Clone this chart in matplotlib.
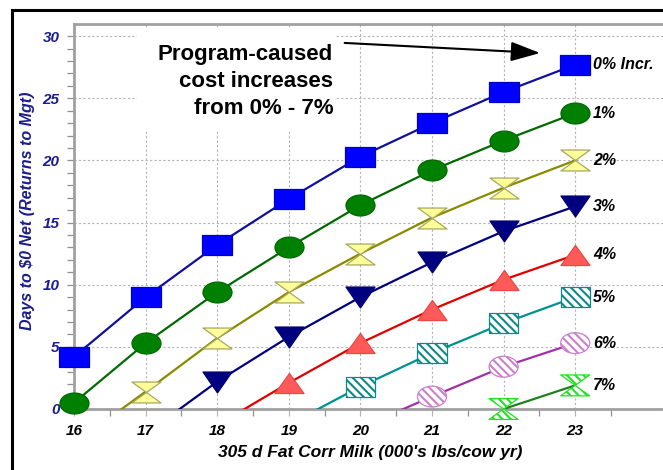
import numpy as np
import matplotlib
matplotlib.use("Agg")
import matplotlib.pyplot as plt
from matplotlib.path import Path
from matplotlib.transforms import Affine2D
from matplotlib.patches import Rectangle
from matplotlib.lines import Line2D

# ---- data -------------------------------------------------------------
milk = [16, 17, 18, 19, 20, 21, 22, 23]          # 000's lbs/cow yr
nan = np.nan
incr_0 = [4.2, 9.0, 13.2, 16.9, 20.3, 23.0, 25.5, 27.7]
incr_1 = [0.5, 5.3, 9.4, 13.0, 16.4, 19.2, 21.6, 23.8]
incr_2 = [-2.8, 1.4, 5.7, 9.4, 12.5, 15.4, 17.8, 20.0]
incr_3 = [nan, -2.0, 2.2, 5.8, 9.0, 11.8, 14.3, 16.3]
incr_4 = [nan, nan, -1.3, 2.1, 5.3, 8.0, 10.4, 12.4]
incr_5 = [nan, nan, nan, -1.25, 1.8, 4.5, 6.9, 9.0]
incr_6 = [nan, nan, nan, nan, -1.5, 1.0, 3.4, 5.3]
incr_7 = [nan, nan, nan, nan, nan, nan, 0.0, 1.9]
series_labels = ["0% Incr.", "1%", "2%", "3%", "4%", "5%", "6%", "7%"]
x_ticks = [16, 17, 18, 19, 20, 21, 22, 23]
y_ticks = [0, 5, 10, 15, 20, 25, 30]

plt.rcParams['font.family'] = ['Liberation Sans', 'DejaVu Sans']
plt.rcParams['hatch.linewidth'] = 1.5

W, H = 663, 470
fig = plt.figure(figsize=(W / 100, H / 100), dpi=100)
fig.patch.set_facecolor('white')

# axes geometry (pixels)
x_lo, x_hi = 16, 24.5
y_lo, y_hi = 0, 31
left_px, bottom_px = 74, 409
ppx, ppy = 71.6, 12.43
ax = fig.add_axes([left_px / W, (H - bottom_px) / H,
                   (x_hi - x_lo) * ppx / W, (y_hi - y_lo) * ppy / H])
ax.set_xlim(x_lo, x_hi)
ax.set_ylim(y_lo, y_hi)
ax.set_facecolor('white')


# ---- marker shapes ---------------------------------------------------
def poly(pts):
    pts = list(pts) + [pts[0]]
    codes = [Path.MOVETO] + [Path.LINETO] * (len(pts) - 2) + [Path.CLOSEPOLY]
    return Path(pts, codes)


sq = poly([(-1, -0.69), (1, -0.69), (1, 0.69), (-1, 0.69)])
ell = Path.unit_circle().transformed(Affine2D().scale(1, 0.72))
tri_up = poly([(-1, -0.69), (1, -0.69), (0, 0.69)])
tri_dn = poly([(-1, 0.72), (1, 0.72), (0, -0.72)])
hourglass = poly([(-1, 0.72), (1, 0.72), (0, 0), (1, -0.72), (-1, -0.72), (0, 0)])

stripes = '\\' * 4
styles = [
    # line color, marker, face, edge, hatch
    ('#10109a', sq, '#0000ff', '#0000c8', None),
    ('#006a00', ell, '#008000', '#006a00', None),
    ('#8a8a00', hourglass, '#ffff99', '#a8a860', None),
    ('#000080', tri_dn, '#000080', '#000070', None),
    ('#e00000', tri_up, '#ff5a5a', '#e84848', None),
    ('#009090', sq, 'white', '#108888', stripes),
    ('#a030a8', ell, 'white', '#cc80cc', stripes),
    ('#208020', hourglass, 'white', '#22e022', stripes),
]
all_series = [incr_0, incr_1, incr_2, incr_3, incr_4, incr_5, incr_6, incr_7]

msize = 20.9 ** 2
for vals, lab, (lc, mk, fc, ec, hatch) in zip(all_series, series_labels, styles):
    v = np.array(vals, dtype=float)
    x = np.array(milk, dtype=float)
    ax.plot(x, v, color=lc, lw=1.6, zorder=3, solid_capstyle='butt')
    show = ~np.isnan(v) & (v >= -0.05)
    kw = dict(s=msize, marker=mk, facecolors=fc, edgecolors=ec,
              linewidths=0.9, clip_on=False, zorder=4)
    if hatch:
        kw['hatch'] = hatch
    ax.scatter(x[show], v[show], **kw)
    last = v[~np.isnan(v)][-1]
    ax.text(23.25, last, lab, ha='left', va='center', fontsize=11.5,
            fontweight='bold', fontstyle='italic', color='black', zorder=5,
            clip_on=False)

# ---- grid, ticks, spines ---------------------------------------------
ax.set_xticks(x_ticks)
ax.set_xticks([t + 0.5 for t in x_ticks], minor=True)
ax.set_yticks(y_ticks)
ax.set_yticks(np.arange(0, 31, 1), minor=True)
ax.grid(True, which='major', color='#b4b4b4', linestyle=(0, (2, 2)), lw=0.8)
ax.set_axisbelow(True)

ax.tick_params(axis='x', which='major', length=5, width=0.8, color='#b4b4b4',
               pad=6, labelsize=11, labelcolor='black')
ax.tick_params(axis='x', which='minor', length=5, width=0.9, color='#909090')
ax.tick_params(axis='y', which='both', length=5, width=0.9, color='#909090')
ax.tick_params(axis='y', which='major', pad=5.5, labelsize=11,
               labelcolor='#1c1c8c')
for lbl in ax.get_xticklabels() + ax.get_yticklabels():
    lbl.set_fontweight('bold')
    lbl.set_fontstyle('italic')

for side in ('left', 'bottom', 'top'):
    ax.spines[side].set_color('#a0a0a0')
    ax.spines[side].set_linewidth(2)
ax.spines['right'].set_visible(False)

# ---- annotation --------------------------------------------------------
ax.add_patch(Rectangle((16.88, 22.45), 19.66 - 16.88, 30.65 - 22.45,
                       facecolor='white', edgecolor='none', zorder=2))
ax.text(19.62, 26.35, "Program-caused\ncost increases\nfrom 0% - 7%",
        ha='right', va='center', multialignment='right', fontsize=16,
        fontweight='bold', color='black', zorder=5, linespacing=1.35)
ax.annotate('', xy=(22.51, 28.64), xytext=(19.78, 29.45),
            arrowprops=dict(arrowstyle='-|>,head_length=1.8,head_width=0.6',
                            color='black', lw=1.5, shrinkA=0, shrinkB=0,
                            mutation_scale=10),
            zorder=5)

# ---- axis titles -----------------------------------------------------
fig.text(28 / W, 1 - 211 / H, "Days to $0 Net (Returns to Mgt)", rotation=90,
         ha='center', va='center', fontsize=11.5, fontweight='bold',
         fontstyle='italic', color='#1c1c8c')
fig.text(370 / W, 1 - 453 / H, "305 d Fat Corr Milk (000's lbs/cow yr)",
         ha='center', va='center', fontsize=12.5, fontweight='bold',
         fontstyle='italic', color='black')

# ---- outer frame -----------------------------------------------------
fig.add_artist(Line2D([12 / W, 12 / W], [0, 1 - 10 / H], transform=fig.transFigure,
                      color='black', lw=2.2, solid_capstyle='projecting'))
fig.add_artist(Line2D([12 / W, 1], [1 - 10 / H, 1 - 10 / H], transform=fig.transFigure,
                      color='black', lw=2.2, solid_capstyle='projecting'))

fig.savefig('out.png', dpi=100)
